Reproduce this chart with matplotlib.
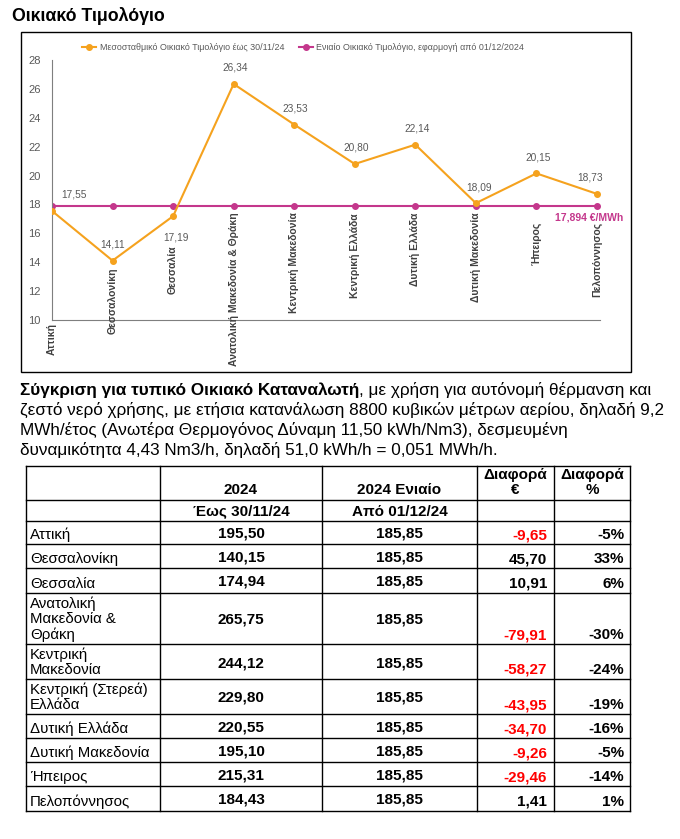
import numpy as np
import matplotlib
matplotlib.use('Agg')
import matplotlib.pyplot as plt
from matplotlib.lines import Line2D

plt.rcParams['font.family'] = ['Liberation Sans', 'DejaVu Sans']

# chart data
regions = ['Αττική', 'Θεσσαλονίκη', 'Θεσσαλία', 'Ανατολική Μακεδονία & Θράκη',
           'Κεντρική Μακεδονία', 'Κεντρική Ελλάδα', 'Δυτική Ελλάδα',
           'Δυτική Μακεδονία', 'Ήπειρος', 'Πελοπόννησος']
avg_tariff = [17.55, 14.11, 17.19, 26.34, 23.53, 20.80, 22.14, 18.09, 20.15, 18.73]
single_tariff = 17.894
y_ticks = [10, 12, 14, 16, 18, 20, 22, 24, 26, 28]
legend_labels = ['Μεσοσταθμικό Οικιακό Τιμολόγιο έως 30/11/24',
                 'Ενιαίο Οικιακό Τιμολόγιο, εφαρμογή από 01/12/2024']

# table data
table_names = ['Αττική', 'Θεσσαλονίκη', 'Θεσσαλία', 'Ανατολική\nΜακεδονία &\nΘράκη',
               'Κεντρική\nΜακεδονία', 'Κεντρική (Στερεά)\nΕλλάδα', 'Δυτική Ελλάδα',
               'Δυτική Μακεδονία', 'Ήπειρος', 'Πελοπόννησος']
cost_old = [195.50, 140.15, 174.94, 265.75, 244.12, 229.80, 220.55, 195.10, 215.31, 184.43]
cost_new = [185.85, 185.85, 185.85, 185.85, 185.85, 185.85, 185.85, 185.85, 185.85, 185.85]
diff_eur = [-9.65, 45.70, 10.91, -79.91, -58.27, -43.95, -34.70, -9.26, -29.46, 1.41]
diff_pct = [-5, 33, 6, -30, -24, -19, -16, -5, -14, 1]

ORANGE = '#F5A21E'
PINK = '#C4378C'
GREY = '#595959'

def gr(v, d=2):
    return f'{v:.{d}f}'.replace('.', ',')

W, H = 680, 839
fig = plt.figure(figsize=(W / 100, H / 100), dpi=100)

# overlay in pixel coords for box, paragraph and table
ov = fig.add_axes([0, 0, 1, 1])
ov.set_xlim(0, W)
ov.set_ylim(H, 0)
ov.axis('off')

ov.text(12, 16, 'Οικιακό Τιμολόγιο', fontsize=12.8, fontweight='bold', va='center', ha='left')
ov.add_patch(plt.Rectangle((21, 32), 610, 340, fill=False, lw=1, ec='black'))

# ---- line chart
ax = fig.add_axes([52 / W, 1 - 320 / H, 548 / W, 260 / H])
x = np.arange(len(regions))
ax.plot(x, avg_tariff, color=ORANGE, lw=1.5, marker='o', ms=4, zorder=3)
ax.plot(x, [single_tariff] * len(x), color=PINK, lw=1.5, marker='o', ms=4, zorder=2)
ax.set_xlim(0, 9.05)
ax.set_ylim(10, 28)
ax.set_yticks(y_ticks)
ax.set_yticklabels([str(t) for t in y_ticks], fontsize=8, color=GREY)
ax.set_xticks([])
ax.tick_params(axis='y', length=0, pad=8)
for s in ['top', 'right']:
    ax.spines[s].set_visible(False)
ax.spines['left'].set_color('#7f7f7f')
ax.spines['bottom'].set_color('#7f7f7f')
ax.patch.set_alpha(0)

label_off = [(16, 8), (0, 8), (2, -12), (1, 8), (1, 8), (1, 8), (1, 8), (2, 8), (1, 8), (-5, 8)]
for i, v in enumerate(avg_tariff):
    ax.annotate(gr(v), (x[i], v), xytext=label_off[i], textcoords='offset points',
                ha='center', va='bottom' if label_off[i][1] > 0 else 'top',
                fontsize=7.3, color=GREY)
ax.annotate(gr(single_tariff, 3) + ' €/MWh', (x[-1], single_tariff), xytext=(-30, -5),
            textcoords='offset points', ha='left', va='top', fontsize=7.5,
            fontweight='bold', color=PINK, annotation_clip=False)

cat_top = [9.79, 13.6, 15.19, 17.48, 17.48, 17.41, 17.41, 17.48, 16.79, 16.79]
for i, name in enumerate(regions):
    ax.text(x[i], cat_top[i], name, rotation=90, ha='center', va='top', fontsize=7.5,
            fontweight='bold', color='#404040', clip_on=False)

handles = [Line2D([], [], color=ORANGE, lw=1.5, marker='o', ms=4),
           Line2D([], [], color=PINK, lw=1.5, marker='o', ms=4)]
fig.legend(handles, legend_labels, loc='center left', bbox_to_anchor=(74 / W, 1 - 48 / H),
           ncol=2, frameon=False, fontsize=6.4, labelcolor=GREY, handlelength=1.6,
           handletextpad=0.4, columnspacing=1.6)

# ---- paragraph
fig.canvas.draw()
rend = fig.canvas.get_renderer()
pfs = 12.3
t_bold = ov.text(20, 395, 'Σύγκριση για τυπικό Οικιακό Καταναλωτή', fontsize=pfs,
                 fontweight='bold', va='baseline')
bb = t_bold.get_window_extent(rend)
ov.text(bb.x1, 395, ', με χρήση για αυτόνομή θέρμανση και', fontsize=pfs, va='baseline')
para = ['ζεστό νερό χρήσης, με ετήσια κατανάλωση 8800 κυβικών μέτρων αερίου, δηλαδή 9,2',
        'MWh/έτος (Ανωτέρα Θερμογόνος Δύναμη 11,50 kWh/Nm3), δεσμευμένη',
        'δυναμικότητα 4,43 Nm3/h, δηλαδή 51,0 kWh/h = 0,051 MWh/h.']
for k, line in enumerate(para):
    ov.text(20, 415 + 20 * k, line, fontsize=pfs, va='baseline')

# ---- table
cols = [26, 160, 322, 477, 554, 630]
rows = [466, 500, 521, 544, 568, 593, 644, 679, 714, 738, 762, 786, 811]
for c in cols:
    ov.plot([c, c], [rows[0], rows[-1]], color='black', lw=1)
for r in rows:
    ov.plot([cols[0], cols[-1]], [r, r], color='black', lw=1)

fs = 11
ov.text((cols[1] + cols[2]) / 2, rows[1] - 3, '2024', ha='center', va='bottom', fontsize=fs, fontweight='bold')
ov.text((cols[2] + cols[3]) / 2, rows[1] - 3, '2024 Ενιαίο', ha='center', va='bottom', fontsize=fs, fontweight='bold')
ov.text((cols[3] + cols[4]) / 2, rows[1] - 3, 'Διαφορά\n€', ha='center', va='bottom', fontsize=fs, fontweight='bold', linespacing=1.05)
ov.text((cols[4] + cols[5]) / 2, rows[1] - 3, 'Διαφορά\n%', ha='center', va='bottom', fontsize=fs, fontweight='bold', linespacing=1.05)
ov.text((cols[1] + cols[2]) / 2, (rows[1] + rows[2]) / 2 + 1, 'Έως 30/11/24', ha='center', va='center', fontsize=fs, fontweight='bold')
ov.text((cols[2] + cols[3]) / 2, (rows[1] + rows[2]) / 2 + 1, 'Από 01/12/24', ha='center', va='center', fontsize=fs, fontweight='bold')

for i in range(len(table_names)):
    top, bot = rows[i + 2], rows[i + 3]
    mid = (top + bot) / 2 + 1.5
    ov.text(cols[0] + 4, bot - 2, table_names[i], ha='left', va='bottom', fontsize=10.8, linespacing=1.1)
    ov.text((cols[1] + cols[2]) / 2, mid, gr(cost_old[i]), ha='center', va='center', fontsize=fs, fontweight='bold')
    ov.text((cols[2] + cols[3]) / 2, mid, gr(cost_new[i]), ha='center', va='center', fontsize=fs, fontweight='bold')
    ov.text(cols[4] - 7, bot - 2, gr(diff_eur[i]), ha='right', va='bottom', fontsize=fs,
            fontweight='bold', color='#FF0000' if diff_eur[i] < 0 else 'black')
    ov.text(cols[5] - 6, bot - 2, f'{diff_pct[i]}%', ha='right', va='bottom', fontsize=fs, fontweight='bold')

fig.savefig('out.png', dpi=100)
